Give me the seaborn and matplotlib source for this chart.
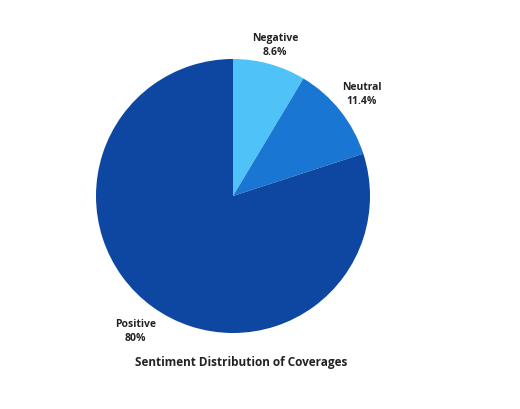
import numpy as np
import matplotlib
matplotlib.use("Agg")
import matplotlib.pyplot as plt
import seaborn as sns

# --- data ---
labels = ["Negative", "Neutral", "Positive"]
shares = [8.6, 11.4, 80.0]
pct_text = ["8.6%", "11.4%", "80%"]
colors = ["#4FC3F7", "#1976D2", "#0D47A1"]
label_dist = [1.15, 1.20, 1.21]

sns.set_style("white")
plt.rcParams["font.family"] = ["Open Sans", "DejaVu Sans"]

fig = plt.figure(figsize=(5.2, 4.1), dpi=100)
ax = fig.add_axes([96 / 520, 76 / 410, 274 / 520, 274 / 410])
wedges, _ = ax.pie(shares, colors=colors, startangle=90, counterclock=False,
                   radius=1.0, wedgeprops=dict(linewidth=0))
ax.set_xlim(-1, 1)
ax.set_ylim(-1, 1)
ax.set_aspect("equal")
ax.axis("off")

# labels at the middle angle of each slice
for w, name, pct, d in zip(wedges, labels, pct_text, label_dist):
    mid = np.deg2rad((w.theta1 + w.theta2) / 2)
    ax.text(d * np.cos(mid), d * np.sin(mid), f"{name}\n{pct}",
            ha="center", va="center", fontsize=7.5, fontweight="bold",
            color="#222222", linespacing=1.4, clip_on=False)

fig.text(241 / 520, 1 - 363 / 410, "Sentiment Distribution of Coverages",
         ha="center", va="center", fontsize=8.5, fontweight="bold", color="#222222")

fig.savefig("out.png", dpi=100, facecolor="white")
